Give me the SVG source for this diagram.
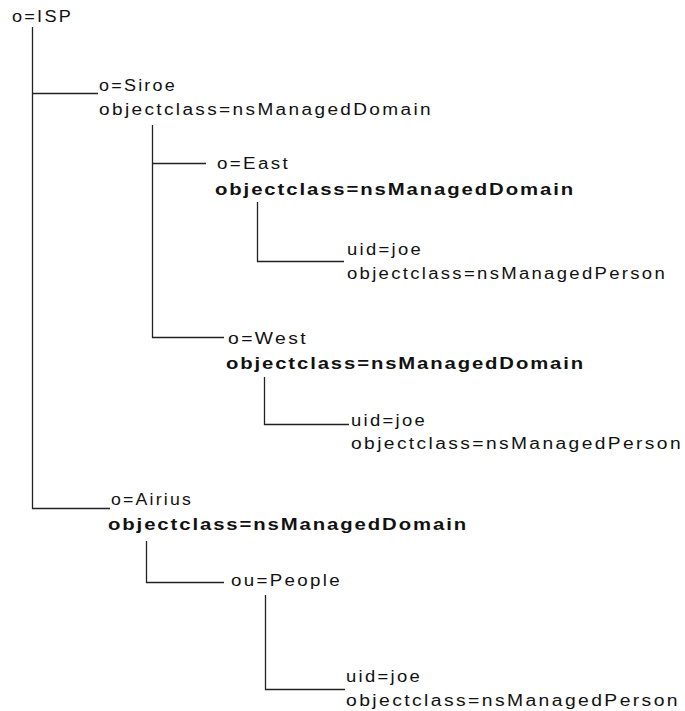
<svg xmlns="http://www.w3.org/2000/svg" width="685" height="711" viewBox="0 0 685 711">
  <style>
    text { font-family: "Liberation Sans", Arial, sans-serif; font-size: 16px; letter-spacing: 2px; fill: #111; }
    .b { font-weight: bold; letter-spacing: 1.5px; }
    .wire { fill: none; stroke: #222; stroke-width: 1.3; }
  </style>
  <rect width="685" height="711" fill="#fff"/>

  <!-- tree connectors -->
  <g id="connectors" class="wire">
    <path d="M32.5 27 V508.5 H110"/>
    <path d="M32.5 93.5 H98"/>
    <path d="M152.5 125 V337.5 H224"/>
    <path d="M152.5 163.5 H206"/>
    <path d="M257.5 202 V261.5 H344"/>
    <path d="M264.5 377 V424.5 H349"/>
    <path d="M146.5 541 V582.5 H224"/>
    <path d="M265.5 595 V689.5 H345"/>
  </g>

  <g id="isp">
    <text x="12" y="22" textLength="61" lengthAdjust="spacingAndGlyphs">o=ISP</text>
  </g>

  <g id="siroe">
    <text x="99" y="91" textLength="78" lengthAdjust="spacingAndGlyphs">o=Siroe</text>
    <text x="99" y="115" textLength="334" lengthAdjust="spacingAndGlyphs">objectclass=nsManagedDomain</text>
  </g>

  <g id="east">
    <text x="217" y="169" textLength="73" lengthAdjust="spacingAndGlyphs">o=East</text>
    <text class="b" x="215" y="195" textLength="360" lengthAdjust="spacingAndGlyphs">objectclass=nsManagedDomain</text>
  </g>

  <g id="east-joe">
    <text x="347" y="255" textLength="76" lengthAdjust="spacingAndGlyphs">uid=joe</text>
    <text x="347" y="279" textLength="320" lengthAdjust="spacingAndGlyphs">objectclass=nsManagedPerson</text>
  </g>

  <g id="west">
    <text x="228" y="344" textLength="80" lengthAdjust="spacingAndGlyphs">o=West</text>
    <text class="b" x="226" y="369" textLength="359" lengthAdjust="spacingAndGlyphs">objectclass=nsManagedDomain</text>
  </g>

  <g id="west-joe">
    <text x="351" y="426" textLength="76" lengthAdjust="spacingAndGlyphs">uid=joe</text>
    <text x="351" y="449" textLength="332" lengthAdjust="spacingAndGlyphs">objectclass=nsManagedPerson</text>
  </g>

  <g id="airius">
    <text x="111" y="505" textLength="82" lengthAdjust="spacingAndGlyphs">o=Airius</text>
    <text class="b" x="108" y="530" textLength="360" lengthAdjust="spacingAndGlyphs">objectclass=nsManagedDomain</text>
  </g>

  <g id="people">
    <text x="231" y="586" textLength="111" lengthAdjust="spacingAndGlyphs">ou=People</text>
  </g>

  <g id="people-joe">
    <text x="346" y="682" textLength="76" lengthAdjust="spacingAndGlyphs">uid=joe</text>
    <text x="346" y="706" textLength="334" lengthAdjust="spacingAndGlyphs">objectclass=nsManagedPerson</text>
  </g>
</svg>
